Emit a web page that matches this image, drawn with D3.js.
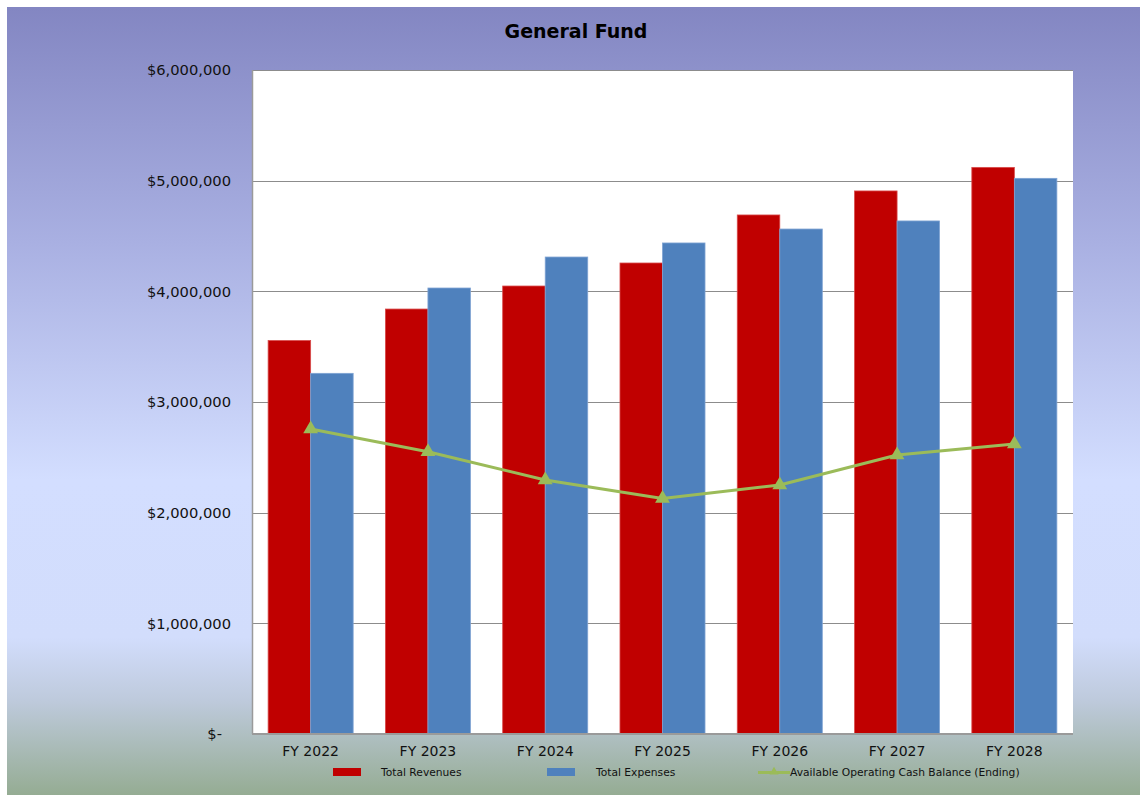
<!DOCTYPE html>
<html>
<head>
<meta charset="utf-8">
<script src="https://cdn.jsdelivr.net/npm/d3@7"></script>
<style>
  html, body { margin: 0; padding: 0; background: #fff; }
  svg { display: block; font-family: "DejaVu Sans", Verdana, sans-serif; }
</style>
</head>
<body>
<svg id="chart" width="1140" height="795"></svg>
<script>
// Fiscal years on the category axis
const years = ["FY 2022", "FY 2023", "FY 2024", "FY 2025", "FY 2026", "FY 2027", "FY 2028"];
// General Fund totals (dollars)
const totalRevenues = [3555000, 3840000, 4048000, 4256000, 4690000, 4907000, 5120000];
const totalExpenses = [3259000, 4030000, 4310000, 4437000, 4563000, 4636000, 5021000];
const cashBalance   = [2756000, 2551000, 2295000, 2128000, 2250000, 2521000, 2620000];
// Value axis ticks
const yTicks = [0, 1000000, 2000000, 3000000, 4000000, 5000000, 6000000];
const seriesNames = ["Total Revenues", "Total Expenses", "Available Operating Cash Balance (Ending)"];
const seriesColors = ["#C00000", "#4F81BD", "#9BBB59"];

const svg = d3.select("#chart");
const W = 1140, H = 795;
const plot = { left: 252, right: 1073, top: 70, bottom: 734 };

// Background panel with vertical gradient
const defs = svg.append("defs");
const grad = defs.append("linearGradient").attr("id", "bg").attr("x1", 0).attr("y1", 0).attr("x2", 0).attr("y2", 1);
[[0, "#8386C2"], [0.3, "#A9B0E2"], [0.6, "#D3DEFF"], [0.8, "#D2DDFC"], [0.88, "#BECADC"], [1, "#95AC93"]]
  .forEach(([o, c]) => grad.append("stop").attr("offset", o).attr("stop-color", c));
svg.append("rect").attr("x", 7).attr("y", 7).attr("width", W - 7).attr("height", H - 7).attr("fill", "url(#bg)");

// Plot area
svg.append("rect")
  .attr("x", plot.left).attr("y", plot.top)
  .attr("width", plot.right - plot.left).attr("height", plot.bottom - plot.top)
  .attr("fill", "#fff");

const x0 = d3.scaleBand().domain(years).range([plot.left, plot.right]).paddingInner(0.275).paddingOuter(0.1375);
const x1 = d3.scaleBand().domain([0, 1]).range([0, x0.bandwidth()]);
const y = d3.scaleLinear().domain([0, 6000000]).range([plot.bottom, plot.top]);

// Gridlines
svg.append("g").selectAll("line").data(yTicks.filter(d => d > 0)).join("line")
  .attr("x1", plot.left).attr("x2", plot.right)
  .attr("y1", d => Math.round(y(d)) + 0.5).attr("y2", d => Math.round(y(d)) + 0.5)
  .attr("stroke", "#8c8c8c").attr("stroke-width", 1);

// Y axis labels
const fmt = d => d === 0 ? "$-" : "$" + d3.format(",")(d);
svg.append("g").selectAll("text").data(yTicks).join("text")
  .attr("x", d => d === 0 ? 222 : 231)
  .attr("y", d => y(d))
  .attr("dy", "0.36em")
  .attr("text-anchor", "end")
  .attr("font-size", 14.7)
  .attr("fill", "#111")
  .text(fmt);

// Bars
const bars = svg.append("g");
const barData = [];
years.forEach((yr, i) => {
  barData.push({ yr, k: 0, v: totalRevenues[i] });
  barData.push({ yr, k: 1, v: totalExpenses[i] });
});
bars.selectAll("rect").data(barData).join("rect")
  .attr("x", d => x0(d.yr) + x1(d.k))
  .attr("y", d => y(d.v))
  .attr("width", x1.bandwidth())
  .attr("height", d => y(0) - y(d.v))
  .attr("fill", d => seriesColors[d.k])
  .attr("stroke", d => d.k === 0 ? "#D84A4A" : "#7FA3D3")
  .attr("stroke-width", 0.8);

// Axis lines
svg.append("line").attr("x1", plot.left + 0.5).attr("x2", plot.left + 0.5)
  .attr("y1", plot.top).attr("y2", plot.bottom)
  .attr("stroke", "#9a9a9a").attr("stroke-width", 1.5);
svg.append("line").attr("x1", plot.left).attr("x2", plot.right)
  .attr("y1", plot.bottom).attr("y2", plot.bottom)
  .attr("stroke", "#9a9a9a").attr("stroke-width", 2);

// Cash balance line with triangle markers
const cx = yr => x0(yr) + x0.bandwidth() / 2;
const lineGen = d3.line().x((d, i) => cx(years[i])).y(d => y(d));
svg.append("path").datum(cashBalance)
  .attr("d", lineGen)
  .attr("fill", "none")
  .attr("stroke", seriesColors[2])
  .attr("stroke-width", 3)
  .attr("stroke-linejoin", "round");
const tri = d3.symbol().type(d3.symbolTriangle).size(95);
svg.append("g").selectAll("path").data(cashBalance).join("path")
  .attr("transform", (d, i) => `translate(${cx(years[i])},${y(d)})`)
  .attr("d", tri)
  .attr("fill", seriesColors[2]);

// Category labels
svg.append("g").selectAll("text").data(years).join("text")
  .attr("x", d => cx(d))
  .attr("y", 751)
  .attr("dy", "0.36em")
  .attr("text-anchor", "middle")
  .attr("font-size", 14)
  .attr("fill", "#111")
  .text(d => d);

// Title
svg.append("text")
  .attr("x", 576).attr("y", 31).attr("dy", "0.36em")
  .attr("text-anchor", "middle")
  .attr("font-size", 19).attr("font-weight", "bold")
  .attr("fill", "#000")
  .text("General Fund");

// Legend
const legend = svg.append("g").attr("font-size", 10.7).attr("fill", "#111");
const lg = [
  { sx: 333, tx: 381, kind: "bar" },
  { sx: 547, tx: 596, kind: "bar" },
  { sx: 758, tx: 790, kind: "line" }
];
lg.forEach((l, i) => {
  if (l.kind === "bar") {
    legend.append("rect").attr("x", l.sx).attr("y", 768).attr("width", 28).attr("height", 8)
      .attr("fill", seriesColors[i]);
  } else {
    legend.append("line").attr("x1", l.sx).attr("x2", l.sx + 32).attr("y1", 772.5).attr("y2", 772.5)
      .attr("stroke", seriesColors[i]).attr("stroke-width", 3);
    legend.append("path").attr("transform", `translate(${l.sx + 16},772)`)
      .attr("d", d3.symbol().type(d3.symbolTriangle).size(35)).attr("fill", seriesColors[i]);
  }
  legend.append("text").attr("x", l.tx).attr("y", 772.5).attr("dy", "0.36em").text(seriesNames[i]);
});
</script>
</body>
</html>
